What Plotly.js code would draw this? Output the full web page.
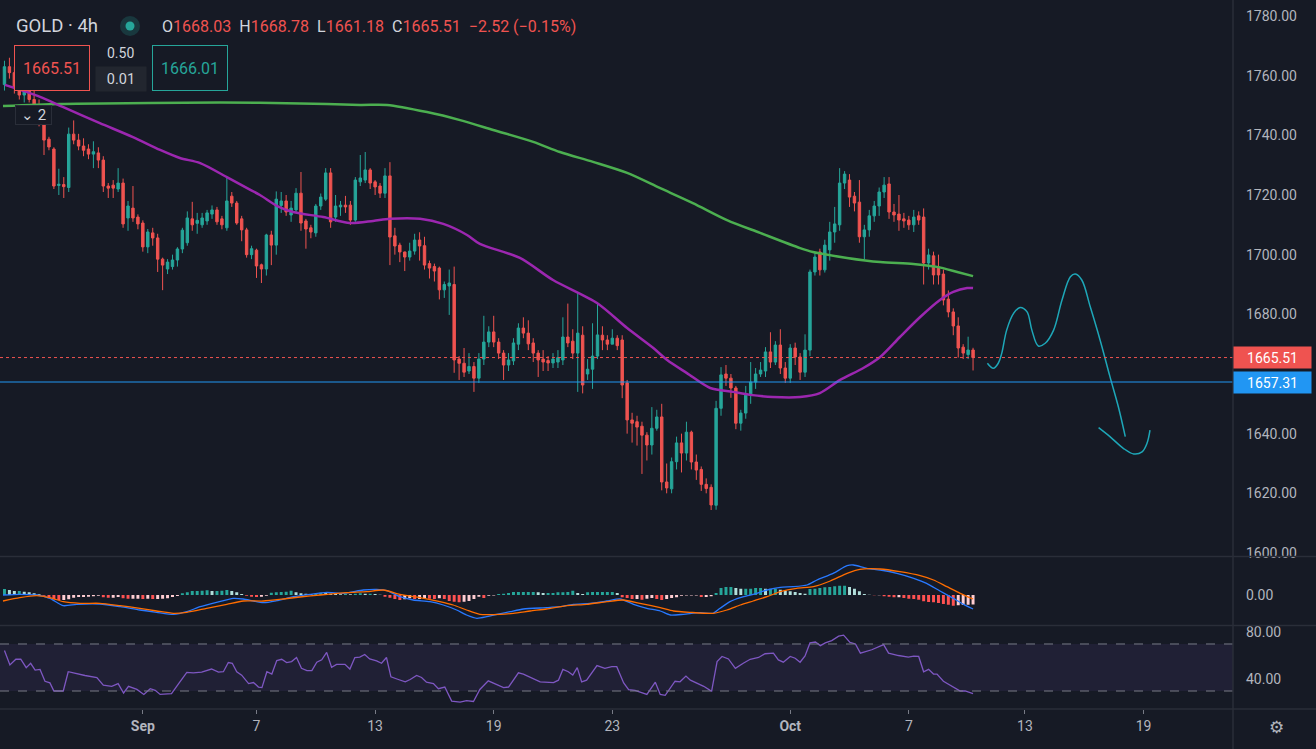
<!DOCTYPE html>
<html>
<head>
<meta charset="utf-8">
<script src="https://cdn.plot.ly/plotly-3.0.1.min.js"></script>
<style>
html,body{margin:0;padding:0;background:#161a25;overflow:hidden;}
#chart{width:1316px;height:749px;}
</style>
</head>
<body>
<div id="chart"></div>
<script>
// ---------- DATA ----------
// 4h bars, x = bar number
const openP = [1757,1763,1761,1756,1753.5,1755,1752,1749,1743.5,1738.7,1735.4,1723.2,1723.5,1722.5,1740.4,1738.4,1736.4,1735.4,1733.7,1734.1,
1731.7,1723,1723.3,1722,1724,1712.3,1715.6,1712.6,1710.6,1702.6,1707.3,1705.6,1698.5,1695.2,1696,1698.2,1701.9,1704,1712,1710.5,
1710,1711.3,1713.6,1715,1712,1709,1719.6,1717.3,1712,1708.3,1700,1701.5,1696.6,1695.2,1706.6,1703.2,1716.5,1718,1713.3,1715,
1720.6,1711.3,1709,1707.3,1716.3,1718.6,1727.4,1712.6,1716,1716.6,1716.6,1711.6,1724.4,1725,1728.4,1724.4,1723,1720.6,1726.4,1706.3,
1703.2,1700.9,1699.2,1701.2,1704.9,1703,1697,1696,1695.5,1688.2,1689.5,1690,1665,1663.6,1661,1662.5,1658.6,1665,1670.7,1674.1,
1670.7,1667,1663,1664.4,1670,1675.4,1673.7,1670.4,1667,1665,1664.5,1663.7,1664,1664.7,1672.4,1671,1667,1673,1660,1661.6,
1666,1673,1671.4,1670,1672,1671.4,1657,1644.6,1644,1642.5,1639.5,1636.2,1641.8,1645.6,1623.8,1621.5,1630.6,1636.9,1633.5,1640.5,
1630.5,1628,1623,1622,1616,1648.5,1660,1658.6,1655.3,1643.5,1646.9,1652.9,1657.3,1660,1661,1667.4,1664,1669.7,1662,1658.6,
1668.7,1665.7,1660.6,1668,1694.2,1700.9,1694.9,1701.6,1707.6,1710,1724,1725,1719.6,1717.6,1706,1708.3,1713,1716.3,1721,1723.7,
1714.3,1713.6,1712,1711.6,1710,1713,1712.6,1697.2,1699.6,1695.9,1693.5,1685.1,1680.8,1676.1,1669,1666.5,1668.03];
const highP = [1765,1766,1763,1758,1756,1757,1755,1752,1744.5,1739.5,1736,1728.8,1726,1742.6,1745,1740.5,1739,1737,1738,1736,
1733,1724,1725,1729,1725.5,1718,1723,1713.5,1711.5,1708.6,1709,1707,1699,1698.5,1700,1702.5,1709,1714.5,1717.7,1714,
1714,1715,1716.5,1716,1713,1726,1721,1718,1713,1709,1703,1702,1697,1707,1708,1721.2,1721,1720,1718,1722.3,
1727.7,1712,1710,1717,1720.5,1729,1729,1720,1718,1719.7,1718,1726,1733.4,1734.4,1729,1725,1724,1729,1731,1709,
1704,1701,1704,1707,1707.5,1706,1698,1697,1696,1691,1695,1696,1666,1668.7,1667,1664,1667,1679.5,1676,1679.5,
1672,1668,1667,1672,1677,1679,1678,1672,1668,1668,1666,1667,1668,1679,1683.6,1675,1687.5,1676,1665,1677,
1683.6,1676,1673,1675,1673,1673,1658,1647,1646,1644,1640.5,1648.9,1648,1650,1630,1632,1639,1640,1644,1641,
1633,1629,1625,1623,1651,1662.3,1663,1660,1656,1648,1656,1664,1662,1664,1669,1674,1671,1675,1664,1670,
1670.5,1667,1673.3,1695,1700.5,1702,1705,1711,1716,1729,1728,1727,1721,1725,1710,1715,1718,1722.5,1726,1726,
1717,1720,1714,1713,1715,1714.5,1715.5,1702,1701,1700,1695,1688,1682,1679,1670,1672.5,1668.78];
const lowP = [1755,1759,1754,1752,1751,1751,1748,1743,1733.4,1735,1722,1720,1719,1721,1737,1735,1733,1732,1729,1729,
1721,1719,1719,1721,1709,1708,1711,1708.5,1701,1700.5,1703,1694.2,1688.1,1693.5,1695,1696,1700.5,1703,1708,1707,
1709,1710,1712,1710,1708.5,1708,1716,1710,1704.5,1699,1698.5,1692.2,1690.5,1693,1696.5,1700,1714,1713,1711,1714,
1708,1702,1705.5,1706,1715,1718,1709,1711,1713,1714,1710,1711,1723,1724,1722,1720,1719,1719,1696.5,1700,
1697.5,1694.5,1698,1700,1698,1695,1692,1691,1685,1685.5,1679.8,1660.4,1658,1659,1660,1654,1657,1663,1669,1669,
1665,1658,1661,1663,1668,1672,1668,1664,1659,1661,1661,1662,1662,1663,1669,1665,1654,1653.5,1658,1655,
1665,1668,1668,1670,1668,1651.9,1640,1637,1636,1626.5,1631,1633,1641,1621,1620,1620,1628,1627,1631,1628,
1624.5,1620.8,1620,1614.4,1614.5,1646,1656,1652,1641.5,1641,1645,1650,1655,1659,1659,1662,1663,1660,1657,1657,
1663,1658,1659,1666,1693,1693,1694,1698,1704,1708,1722,1716,1714.5,1704,1698.4,1706,1711,1713,1719,1712,
1711,1708,1709,1708.3,1707.6,1710,1690,1695,1690,1690,1683,1679,1673,1665.5,1665,1665,1661.18];
const closeP = [1763,1761,1756,1753.5,1755,1752,1749,1744,1738.4,1736.1,1723,1723.6,1722.8,1740.4,1738.4,1736.4,1735,1733.7,1734.5,1731.7,
1723,1722.3,1722.3,1724,1710.3,1716.3,1712.3,1710.3,1702.6,1707.6,1705.6,1698.5,1696.5,1697.5,1698.2,1701.9,1708.2,1712.3,1710,1711.5,
1712.3,1714,1715,1711,1710,1718,1717.3,1710.6,1708.3,1700,1702,1696.2,1695.2,1706.6,1703.2,1718.6,1718,1714.3,1715.6,1720.6,
1710.6,1708.6,1707.6,1716.3,1719.3,1727.4,1711,1716.3,1716.6,1716,1711.6,1725,1725.7,1728.4,1724,1722.7,1720.6,1726.4,1705.9,1702.9,
1700.9,1699.2,1701.2,1704.9,1702.9,1696.5,1695.5,1694.5,1688.2,1690,1690.5,1664.7,1663.6,1660.6,1662.5,1658.6,1665,1670.7,1674.1,1670.7,
1667,1663,1664.7,1670.4,1675.4,1673.7,1670.1,1667,1664.7,1664,1663.7,1665,1665.5,1672.4,1670.4,1667,1673.7,1656.3,1661.6,1666,
1673.1,1671.4,1670,1672,1669.5,1656.3,1644.6,1643.5,1642.2,1639.5,1636.2,1641.8,1645.6,1623.8,1621.8,1630.6,1636.9,1633.5,1640.5,1630.5,
1627.8,1623,1621.6,1616.1,1648.5,1659.7,1658.6,1655.3,1643.5,1646.9,1652.9,1657.3,1660,1661.3,1667.4,1664,1669.7,1662,1658.6,1668.7,
1665.7,1660.6,1668,1694.2,1699.2,1694.9,1703.2,1707.6,1710.3,1724,1727,1719.3,1717.3,1706,1708.3,1713,1716.3,1721,1723.3,1714.3,
1713.3,1711.6,1711.3,1710,1712.6,1711.6,1697.2,1699.9,1693.2,1693.2,1684.8,1680.8,1676.1,1668.7,1667,1668.03,1665.51];

// moving averages (bar number, price)
const purpleIdx = [0.1,7.2,11.8,19.3,26,31.5,35.5,39.6,45,49.1,51.7,55.2,58.4,64.5,69.9,74.6,78,84.1,88.8,93.6,96.2,104.3,111,119.9,126,131.3,134.1,138.1,142.8,147.4,150.9,155.5,161,165,169.1,173.8,177.2,181.2,185.3,189.3,192,194.8,196];
const purpleVal = [1756.9,1752.9,1749.5,1744.1,1739.4,1735.1,1732.4,1730.7,1726,1722.3,1720,1716.3,1714.3,1712.6,1710.6,1711.3,1712,1712,1710.3,1706.6,1703.6,1698.9,1691.5,1683.8,1675.4,1668.7,1664.7,1660.3,1655.3,1654,1653,1652.3,1652.3,1653.6,1658,1662,1665.7,1672.4,1679.1,1684.8,1687.5,1688.8,1688.8];
const greenIdx = [-0.3,11.2,29.5,43.6,59.8,72,77.4,85.5,92.2,98.9,107,112.4,119.1,126,132.7,139.3,146.2,152.9,161,163.6,170.5,177.2,183.9,188.7,192.8,196];
const greenVal = [1749.8,1750.5,1750.8,1751,1750.7,1750.2,1750.2,1747.8,1745.1,1741.8,1737.8,1734.4,1731.1,1727.4,1722.3,1717.3,1711.6,1707.3,1702.2,1700.9,1698.9,1697.5,1696.9,1695.9,1694.2,1692.8];

// hand-drawn projection
const draw1Idx = [198.9,200.1,201.1,201.8,202.8,204.2,205.5,206.9,207.9,209.2,210.6,212.3,214,215.7,216.7,218,219.7,221.7,223.7,225.4,226.8];
const draw1Val = [1663.6,1661.9,1663.6,1666.9,1674.7,1680.3,1682.3,1680.9,1674.7,1669.4,1670.3,1674.7,1684.8,1692.6,1693.5,1691.5,1682.6,1671.4,1659.1,1649,1639];
const draw2Idx = [221.4,223.7,226.4,228.5,230.2,231.2,231.8];
const draw2Val = [1642,1639,1635.1,1633.2,1633.9,1636.8,1641.2];

const lastPrice = 1665.51;
const levelPrice = 1657.31;
const priceTicks = [1600,1620,1640,1680,1700,1720,1740,1760,1780];

// MACD (bar number, value)
const macdIdx = [-0.3,3.1,6.5,9.2,11.9,14.6,19.3,23.4,27.4,30.8,34.2,36.9,39.6,42.9,46.3,48.3,52.4,55.1,58.5,61.8,65.2,68.6,72.6,75.3,77.4,80,82.7,86.1,88.8,91.5,93.5,95.6,97.6,99,102.3,105,109.7,112.4,115.1,118.5,121.9,124.6,127.3,130,132.7,134.7,137.4,140.8,143.4,144.8,146.8,148.9,151.5,154.3,157,159.6,162.4,164.4,167.7,170.5,171.8,174.5,177.2,180.6,184,186.6,189.3,192,194.1,196];
const macdVal = [0,0.27,0,-1.33,-4.27,-3.73,-3.6,-4.67,-6,-6.93,-7.73,-6.67,-4.67,-2.93,-1.33,-1.6,-3.07,-2.27,-0.67,0.27,1.07,0.67,2,2.27,1.73,-0.67,-2,-2.67,-4,-6,-8,-9.33,-8.67,-8,-6.67,-5.6,-5.07,-4.67,-3.73,-3.33,-2.4,-1.6,-3.73,-5.33,-6.4,-8,-7.73,-7.07,-7.33,-5.33,-2.67,-1.07,0.27,2,3.07,3.33,4,6,8.67,11.73,12,10.67,10,8.67,6.67,4.67,1.6,-1.33,-3.73,-5.6];
const sigIdx = [-0.3,3.1,6.5,9.2,11.9,15.3,19.3,23.4,27.4,30.8,34.2,36.9,40.9,45,48.3,52.4,56.4,59.8,63.9,69.3,73.3,76.7,80,84.1,88.1,90.8,93.5,96.2,100.3,103,106.4,109.7,113.8,117.8,121.9,125.2,128.6,132.7,135.4,138.7,143.4,146.2,148.9,151.5,154.3,157,160.3,163.7,167.1,170.5,173.1,177.2,181.2,185.3,188,190.7,193.4,196];
const sigVal = [-2.4,-1.07,-0.27,-1.07,-2.67,-3.33,-3.33,-4.27,-5.33,-6.4,-7.33,-6.93,-5.33,-3.73,-2.4,-2.4,-1.6,-0.8,0,0.93,1.33,2,0.27,-1.07,-2.67,-4,-6,-7.73,-7.73,-7.33,-6.4,-5.6,-4.27,-3.73,-2.67,-2,-3.33,-5.07,-6.4,-6.93,-7.33,-6,-4,-2.4,-0.67,1.33,2.67,3.33,5.6,8.67,10.27,10.4,9.33,7.73,6,3.33,0.67,-1.6];
const histVal = [2.4,2,1.6,1.6,1.3,1.1,0.7,0.3,-0.3,-1.3,-1.7,-2,-2,-1.7,-1.1,-0.8,-0.8,-0.7,-0.5,-0.3,
-0.9,-1.1,-1.1,-0.8,-1.3,-1.5,-1.5,-1.5,-1.6,-1.5,-1.6,-1.6,-1.5,-1.3,-0.8,-0.4,0.7,1.1,1.6,1.6,
1.7,1.9,1.6,1.6,1.7,2,1.6,1.1,0.4,-0.3,-0.7,-0.8,-0.7,-0.3,0.9,1.1,1.2,1.3,1.7,1.1,
0.7,0.5,0.4,0.5,0.9,0.8,0.5,0.4,0.3,0.4,0.3,0.5,0.7,0.5,0.5,0.4,0.1,-0.7,-1.1,-1.6,
-2,-1.7,-1.3,-1.6,-1.6,-1.3,-1.5,-1.6,-1.3,-1.6,-2.4,-2.7,-2.9,-2.7,-2.4,-1.6,-0.7,-1.2,-0.3,-0.2,
0.4,0.5,0.8,1.2,1.2,1.2,1.2,1.2,1.1,0.8,0.8,0.8,1.1,1.1,1.2,1.7,0.8,0.4,1.1,1.2,
1.2,1.2,1.2,1.2,0.8,-0.9,-1.2,-1.6,-1.6,-1.9,-1.5,-1.2,-1.6,-2,-1.6,-1.2,-0.9,-0.3,-0.2,-0.2,
-0.2,-0.8,-0.8,-0.5,0.8,2.8,3.2,3.2,2.8,2.5,2.5,2.5,2.8,2.8,2.5,2.5,2.5,2.1,1.7,1.5,
1.2,0.8,0.5,2.4,2.5,2.8,3.1,3.2,3.5,3.7,3.7,3.2,2.5,1.5,0.4,0.1,-0.1,-0.1,-0.5,-0.7,
-0.9,-0.9,-1.2,-1.5,-1.6,-1.9,-2.5,-2.8,-2.9,-3.2,-3.6,-3.9,-4.3,-4.1,-4,-3.9,-3.8];

// RSI (bar number, value)
const rsiIdx = [0,1.1,2.3,3.3,4.4,5.3,6.2,7.2,8.2,9.2,10,11.1,11.9,12.9,14.3,16.3,18.7,20,21.7,23,24.1,25.1,26.8,28.2,29.5,30.5,31.5,33.8,35.5,36.9,38.2,39.9,41.9,43.3,44.3,45.3,46.1,47,48,49.4,50.4,51.4,52.1,53.1,54.1,55.1,56.1,57.1,58.1,59.1,60.1,61.2,62.2,63.2,64.2,65.2,66.2,67.2,68.9,69.9,70.9,71.9,72.9,73.9,75.3,76.3,77.3,78.2,79.7,81.1,82.1,83.4,84.4,85.4,86.8,87.8,89.1,90.5,92.2,93.5,94.9,96.2,97.9,99.3,101,102,104,105,106.7,108.4,111.1,112.1,113,114.1,115,115.9,116.8,117.8,119.9,121.5,122.9,123.9,125.3,126.3,127.6,128.6,130,131.7,132.7,133.7,135.7,136.7,137.9,138.8,140.1,141.5,142.8,143.1,144.2,145.2,146.5,147.9,149.5,150.9,152.6,153.9,155.6,156.6,157.6,159,160,161,162,163,164.1,165.1,166.1,167.4,168.8,169.8,171.1,172.2,173.2,175.5,177.9,178.9,180.9,182.9,184,185,186,187,188,188.7,190,191.4,193.4,194.4,196];
const rsiVal = [64.5,52.2,57,57,49.9,53.6,47.8,48.4,38.3,36.9,30,30,30,46.4,45,43.2,41.5,34.9,34,36.3,28.3,34,31.4,27.1,32,30.6,27.1,27.7,37.8,45.8,45.5,46.1,48.7,46.1,46.4,54.2,53.6,46.4,43.5,36.3,37.2,33.4,32.9,46.4,44.4,55.9,57,54.2,55,58.5,49.3,47.3,47.3,54.5,56.5,62.8,50.1,52.7,52.7,48.7,58.5,58.8,61.1,57.3,55.6,53.6,58.5,42.1,39.8,37.8,39.8,43.2,41.5,37.5,36.3,32,33.4,21.4,20.5,21.9,21.1,31.3,38.6,36.3,32.9,33.4,45.5,44.4,41.2,37.8,37.2,39.2,48.4,46.4,43.5,49.9,37.8,39.2,51.6,49.3,50.7,50.7,36.9,31.1,30.6,29.1,27.1,37.5,27.1,26.3,38.3,37.8,42.7,39.2,36.9,34,30.6,30,55,59.4,57.3,49.3,53.6,57,58.5,61.7,62.2,56.5,54.5,59.4,57.9,54.5,59.9,70.9,71.7,68.6,70.9,72.9,76.6,77.5,71.4,70,62.2,65.1,69.4,62.2,60.2,58.8,59.6,59.4,46.4,48.4,44.4,44.4,38.3,34.9,30,30,27.7];

// time axis
const tickIdx = [28,51,75,99,123,159,183,206.5,230.5];
const tickText = ['<b>Sep</b>','7','13','19','23','<b>Oct</b>','7','13','19'];

// ---------- CHART ----------
const UP = '#26a69a', DOWN = '#ef5350';
const barIdx = closeP.map((_, i) => i);
const histIdx = histVal.map((_, i) => i);
const histColors = histVal.map((h, i) => {
  const prev = i > 0 ? histVal[i - 1] : h;
  if (h >= 0) return h >= prev ? '#26a69a' : '#b2dfdb';
  return h < prev ? '#ff5252' : '#ffcdd2';
});

const traces = [
  {type:'candlestick', x:barIdx, open:openP, high:highP, low:lowP, close:closeP, xaxis:'x', yaxis:'y',
   increasing:{line:{color:UP,width:1}, fillcolor:UP}, decreasing:{line:{color:DOWN,width:1}, fillcolor:DOWN},
   whiskerwidth:0, hoverinfo:'skip'},
  {type:'scatter', mode:'lines', x:greenIdx, y:greenVal, line:{color:'#4caf50', width:2.5, shape:'spline', smoothing:0.8}, hoverinfo:'skip'},
  {type:'scatter', mode:'lines', x:purpleIdx, y:purpleVal, line:{color:'#9c27b0', width:2.5, shape:'spline', smoothing:0.8}, hoverinfo:'skip'},
  {type:'scatter', mode:'lines', x:draw1Idx, y:draw1Val, line:{color:'#1ea7b8', width:1.5, shape:'spline', smoothing:1}, hoverinfo:'skip'},
  {type:'scatter', mode:'lines', x:draw2Idx, y:draw2Val, line:{color:'#1ea7b8', width:1.5, shape:'spline', smoothing:1}, hoverinfo:'skip'},
  {type:'bar', x:histIdx, y:histVal, yaxis:'y2', marker:{color:histColors, line:{width:0}}, width:0.6, hoverinfo:'skip'},
  {type:'scatter', mode:'lines', x:macdIdx, y:macdVal, yaxis:'y2', line:{color:'#2979ff', width:1.3, shape:'spline', smoothing:0.6}, hoverinfo:'skip'},
  {type:'scatter', mode:'lines', x:sigIdx, y:sigVal, yaxis:'y2', line:{color:'#ff6d00', width:1.3, shape:'spline', smoothing:0.6}, hoverinfo:'skip'},
  {type:'scatter', mode:'lines', x:rsiIdx, y:rsiVal, yaxis:'y3', line:{color:'#7e57c2', width:1.3}, hoverinfo:'skip'}
];

const PW = 1233, PH = 709;
const px = X => X / PW;
const py = Y => (PH - Y) / PH;
const SEP = '#2a2e39';
const TXT = '#b2b5be';

const shapes = [
  {type:'rect', xref:'paper', yref:'y3', x0:0, x1:1, y0:30, y1:70, fillcolor:'rgba(126,87,194,0.10)', line:{width:0}, layer:'below'},
  {type:'line', xref:'paper', yref:'y3', x0:0, x1:1, y0:70, y1:70, line:{color:'#787b86', width:1, dash:'dash'}},
  {type:'line', xref:'paper', yref:'y3', x0:0, x1:1, y0:30, y1:30, line:{color:'#787b86', width:1, dash:'dash'}},
  {type:'line', xref:'paper', yref:'y', x0:0, x1:1, y0:lastPrice, y1:lastPrice, line:{color:'#ef5350', width:1, dash:'dot'}},
  {type:'line', xref:'paper', yref:'y', x0:0, x1:1, y0:levelPrice, y1:levelPrice, line:{color:'#2196f3', width:1}},
  {type:'line', xref:'paper', yref:'paper', x0:0, x1:1316/PW, y0:py(556.5), y1:py(556.5), line:{color:SEP, width:1.5}},
  {type:'line', xref:'paper', yref:'paper', x0:0, x1:1316/PW, y0:py(625.5), y1:py(625.5), line:{color:SEP, width:1.5}},
  {type:'line', xref:'paper', yref:'paper', x0:0, x1:1316/PW, y0:0, y1:0, line:{color:SEP, width:1.5}},
  {type:'line', xref:'paper', yref:'paper', x0:1, x1:1, y0:-40/PH, y1:1, line:{color:SEP, width:1.5}},
  {type:'circle', xref:'paper', yref:'paper', x0:px(120), x1:px(140), y0:py(36), y1:py(16), fillcolor:'rgba(38,166,154,0.22)', line:{width:0}},
  {type:'circle', xref:'paper', yref:'paper', x0:px(125.5), x1:px(134.5), y0:py(30.5), y1:py(21.5), fillcolor:'#26a69a', line:{width:0}}
];

const R = s => '<span style="color:#ef5350">' + s + '</span>';
const SP = '\u2002';
const annotations = [
  {xref:'paper', yref:'paper', x:px(14), y:py(26), xanchor:'left', yanchor:'middle', showarrow:false,
   text:'GOLD · 4h', font:{size:18.5, color:'#d1d4dc'}},
  {xref:'paper', yref:'paper', x:px(160), y:py(26), xanchor:'left', yanchor:'middle', showarrow:false,
   text:'O' + R('1668.03') + SP + 'H' + R('1668.78') + SP + 'L' + R('1661.18') + SP + 'C' + R('1665.51') + SP + R('−2.52 (−0.15%)'),
   font:{size:16, color:'#d1d4dc'}},
  {xref:'paper', yref:'paper', x:px(51.5), y:py(68.5), xanchor:'center', yanchor:'middle', showarrow:false,
   text:'1665.51', font:{size:16, color:'#ef5350'}, bgcolor:'#161a25', bordercolor:'#ef5350', borderwidth:1, width:70, height:40, borderpad:2},
  {xref:'paper', yref:'paper', x:px(120.5), y:py(53), xanchor:'center', yanchor:'middle', showarrow:false,
   text:'0.50', font:{size:14, color:'#d1d4dc'}},
  {xref:'paper', yref:'paper', x:px(120.5), y:py(78.5), xanchor:'center', yanchor:'middle', showarrow:false,
   text:'0.01', font:{size:14.5, color:'#d1d4dc'}, bgcolor:'#22262f', width:48, height:22, borderpad:1},
  {xref:'paper', yref:'paper', x:px(190), y:py(68.5), xanchor:'center', yanchor:'middle', showarrow:false,
   text:'1666.01', font:{size:16, color:'#26a69a'}, bgcolor:'#161a25', bordercolor:'#26a69a', borderwidth:1, width:70, height:40, borderpad:2},
  {xref:'paper', yref:'paper', x:px(33.5), y:py(115), xanchor:'center', yanchor:'middle', showarrow:false,
   text:'⌄ 2', font:{size:15, color:'#d1d4dc'}, bgcolor:'#161a25', bordercolor:'#2a2e39', borderwidth:1, width:33, height:16, borderpad:1},
  {xref:'paper', yref:'y', x:1, y:lastPrice, xanchor:'left', yanchor:'middle', showarrow:false,
   text:'1665.51', font:{size:14, color:'#ffffff'}, bgcolor:'#ef5350', width:73, height:17, borderpad:2},
  {xref:'paper', yref:'y', x:1, y:levelPrice, xanchor:'left', yanchor:'middle', showarrow:false,
   text:'1657.31', font:{size:14, color:'#ffffff'}, bgcolor:'#2196f3', width:73, height:17, borderpad:2},
  {xref:'paper', yref:'paper', x:px(1276), y:py(727), xanchor:'center', yanchor:'middle', showarrow:false,
   text:'⚙', font:{size:17, color:TXT}}
];

const yCommon = {side:'right', anchor:'x', showgrid:false, zeroline:false, ticks:'', showline:false,
  tickfont:{size:14, color:TXT}, tickformat:'.2f', ticklabelstandoff:12, fixedrange:true};

const layout = {
  width:1316, height:749,
  margin:{l:0, r:83, t:0, b:40},
  paper_bgcolor:'#161a25', plot_bgcolor:'#161a25',
  showlegend:false, hovermode:false, dragmode:false, bargap:0.4,
  font:{family:'Roboto, "Noto Sans", sans-serif', color:TXT, size:13},
  xaxis:{range:[-0.905, 248.6], anchor:'y3', tickvals:tickIdx, ticktext:tickText, ticks:'outside', ticklen:4,
    tickcolor:'#787b86', showgrid:false, zeroline:false, showline:false, rangeslider:{visible:false},
    tickfont:{size:14, color:TXT}, fixedrange:true},
  yaxis:Object.assign({}, yCommon, {domain:[py(556), 1], range:[1598.99, 1785.36], tickvals:priceTicks}),
  yaxis2:Object.assign({}, yCommon, {domain:[py(625), py(557)], range:[-12, 15.2], tickvals:[0]}),
  yaxis3:Object.assign({}, yCommon, {domain:[0, py(626)], range:[14.7, 85.3], tickvals:[40, 80]}),
  shapes:shapes,
  annotations:annotations
};

Plotly.newPlot('chart', traces, layout, {displayModeBar:false, staticPlot:true});
</script>
</body>
</html>
